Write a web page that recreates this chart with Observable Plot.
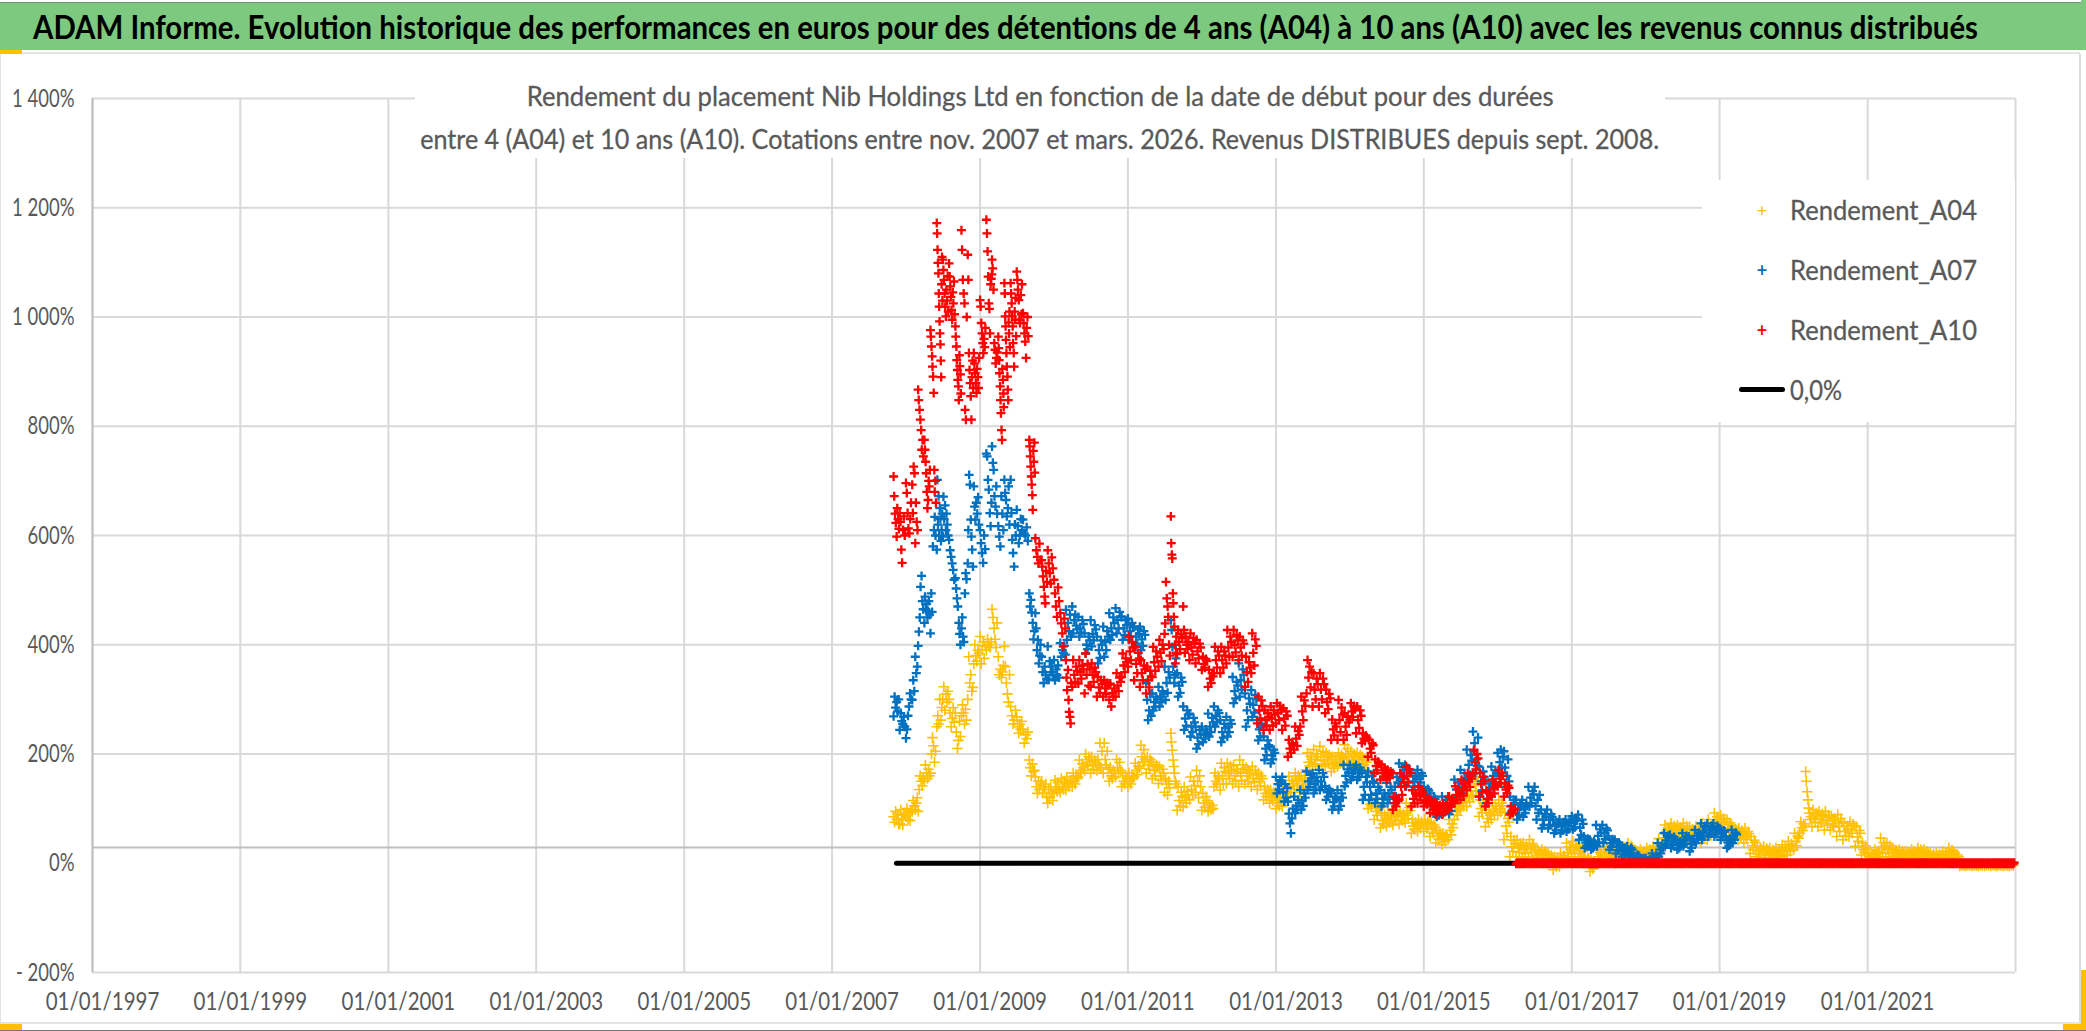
<!DOCTYPE html>
<html lang="fr">
<head>
<meta charset="utf-8">
<title>ADAM Informe</title>
<script src="https://cdn.jsdelivr.net/npm/d3@7"></script>
<script src="https://cdn.jsdelivr.net/npm/@observablehq/plot@0.6"></script>
<style>
html,body{margin:0;padding:0;background:#fff;width:2086px;height:1031px;overflow:hidden}
#page{position:relative;width:2086px;height:1031px;overflow:hidden;font-family:Lato,"Open Sans",sans-serif}
#bar{position:absolute;left:0;top:2px;width:2086px;height:48px;background:#7DC97F;border-top:1px solid #6f8f70;box-sizing:border-box}
#bar span{position:absolute;left:33px;top:3px;white-space:nowrap;font:700 33px Lato,sans-serif;color:#000;transform-origin:0 0}
#chart{position:absolute;left:0;top:0}
#subtitle{position:absolute;left:415px;top:75px;width:1250px;height:83px;background:#fff;color:#595959;text-align:center;font-size:27px;-webkit-text-stroke:.3px #595959}
#subtitle div{position:absolute;left:-400px;right:-400px;white-space:nowrap}
#subtitle span{display:inline-block;transform-origin:50% 50%}
#legend{position:absolute;left:1702px;top:180px;width:313px;height:242px;background:#fff;color:#595959;font-size:26px;-webkit-text-stroke:.3px #595959}
#legend .t{position:absolute;left:88px;white-space:nowrap;line-height:30px;transform-origin:0 50%}
#legend .m{position:absolute;left:52px;width:16px;text-align:center;font-size:18px;font-weight:700;line-height:30px;-webkit-text-stroke:0}
#legend .k{position:absolute;left:37px;width:46px;height:5px;border-radius:3px;background:#000;top:207px}
.edge{position:absolute}
</style>
</head>
<body>
<div id="page">
  <div id="chart"></div>
  <div id="bar"><span id="titleText" data-w="1945">ADAM Informe. Evolution historique des performances en euros pour des détentions de 4 ans (A04) à 10 ans (A10) avec les revenus connus distribués</span></div>
  <div class="edge" style="left:0;top:52px;width:2080px;height:2px;background:#e4e4e4"></div>
  <div class="edge" style="left:0;top:50px;width:22px;height:4px;background:#FFC000"></div>
  <div class="edge" style="left:0;top:54px;width:1px;height:970px;background:#e4e4e4"></div>
  <div class="edge" style="left:2079px;top:54px;width:2px;height:970px;background:#dcdcdc"></div>
  <div class="edge" style="left:0;top:1022px;width:2080px;height:2px;background:#e4e4e4"></div>
  <div class="edge" style="left:0;top:1030px;width:2086px;height:1px;background:#777"></div>
  <div class="edge" style="left:0;top:1024px;width:22px;height:6px;background:#FFC000"></div>
  <div class="edge" style="left:2063px;top:1024px;width:23px;height:6px;background:#FFC000"></div>
  <div class="edge" style="left:2081px;top:970px;width:5px;height:60px;background:#FFC000"></div>
  <div class="edge" style="left:2081px;top:0;width:5px;height:50px;background:#7DC97F"></div>
  <div id="subtitle">
    <div style="top:4px"><span data-w="1027">Rendement du placement Nib Holdings Ltd en fonction de la date de début pour des durées</span></div>
    <div style="top:47px"><span data-w="1239">entre 4 (A04) et 10 ans (A10). Cotations entre nov. 2007 et mars. 2026. Revenus DISTRIBUES depuis sept. 2008.</span></div>
  </div>
  <div id="legend">
    <div class="m" style="top:15px;color:#FFC000;font-weight:400">+</div><div class="t" data-w="187" style="top:15px">Rendement_A04</div>
    <div class="m" style="top:75px;color:#0070C0">+</div><div class="t" data-w="187" style="top:75px">Rendement_A07</div>
    <div class="m" style="top:135px;color:#FF0000">+</div><div class="t" data-w="187" style="top:135px">Rendement_A10</div>
    <div class="k"></div><div class="t" data-w="52" style="top:195px">0,0%</div>
  </div>
</div>
<script>
// Values, one inner list per month, in percent.
const A04_rows = [
 [85,75,95,80,90,72],[72,98,82,70,88,92],
 [85,100,80,92,78,96],[95,115,105,98,110,120],[95,135,160,150,142,155],[150,180,165,155,172,160],[165,200,230,215,185,205],[250,270,255,300,262,285],[300,323,280,310,295,315],[300,275,250,265,285,258],[275,240,210,225,260,232],[270,290,275,255,282,262],[300,378,330,345,315,322],[365,400,380,370,390,385],
 [415,365,390,405,375,398],[390,410,400,395,405],[465,450,430,410,395,440],[378,345,355,340,350,362],[397,360,330,310,295,345],[287,270,255,262,280],[268,250,238,255,245,260],[245,220,235,228,240],[189,175,160,182,168,170],[158,140,128,150,135,145],[150,128,140,135,145,122],[110,135,120,140,128,115],
 [128,152,140,132,148,136],[130,155,140,135,150,145],[134,158,145,140,152,148],[140,165,150,145,160,155],[158,189,170,165,182,175],[170,200,185,178,195,190],[165,195,180,172,188,184],[170,190,180,220,175,205],[165,220,190,180,205,172],[150,175,160,155,170,165],[158,190,175,165,185,170],[140,165,150,145,160,155],
 [140,165,150,145,160,155],[158,183,170,162,178,174],[177,216,195,185,208,190],[165,195,180,172,190,185],[155,185,170,160,180,175],[146,177,160,152,172,165],[130,155,145,125,150,138],[238,222,207,189,177,165,150,145],[97,140,115,105,130,122],[103,140,120,110,132,125],[116,158,135,125,150,142],[130,170,150,120,160,140],
 [97,128,110,102,122,115],[95,110,102,98,106,100],[140,165,150,145,160,155],[134,183,160,145,175,168],[146,183,165,155,178,170],[145,180,160,150,172,168],[140,189,165,152,180,172],[145,175,160,150,170,165],[140,177,155,148,170,162],[135,165,150,142,160,155],[116,140,128,122,135,130],[110,134,120,115,130,125],
 [100,122,110,105,118,113],[104,140,122,112,135,128],[122,159,140,130,152,146],[135,165,150,142,160,155],[130,160,145,138,155,150],[171,202,185,178,196,190],[177,208,190,182,200,195],[171,214,195,180,205,188],[177,202,190,183,198,194],[168,195,180,174,190,185],[177,202,190,183,198,194],[183,217,200,190,210,195],
 [180,205,190,185,200,195],[177,202,190,183,198,194],[165,195,180,172,190,185],[100,115,108,104,112,110],[80,110,95,88,105,100],[65,92,78,72,88,82],[68,92,80,74,88,84],[70,98,85,78,92,88],[72,95,85,78,90,88],[74,110,92,82,102,96],[55,80,68,62,75,72],[58,80,70,64,76,72],
 [58,80,70,64,76,72],[49,74,62,55,70,66],[37,61,50,44,56,52],[34,55,45,40,52,48],[43,80,60,52,72,65],[80,110,95,88,105,100],[98,122,110,104,118,114],[104,140,120,112,132,125],[122,165,145,132,158,150],[86,116,100,92,110,105],[67,98,82,75,92,88],[80,110,95,88,105,100],
 [88,116,100,94,110,105],[43,92,68,55,82,75],[12,49,30,22,42,36],[12,43,28,20,36,32],[12,37,25,18,32,28],[12,43,28,20,36,32],[6,25,15,10,22,18],[6,25,15,10,22,18],[0,18,8,4,14,10],[-12,12,0,-6,8,4],[-6,18,6,0,14,10],[6,37,20,12,30,25],
 [12,40,25,18,34,30],[8,30,18,12,26,22],[0,12,6,3,10,8],[-15,6,-5,-10,2,-2],[0,25,12,6,20,16],[6,37,20,12,30,25],[6,25,15,10,22,18],[0,18,10,5,14,12],[6,25,15,10,22,18],[12,37,25,18,32,28],[6,25,15,10,22,18],[6,25,15,10,22,18],
 [12,28,20,15,25,22],[6,31,18,12,26,22],[12,45,30,22,38,34],[46,70,58,52,65,62],[49,73,60,54,68,64],[49,70,60,54,66,63],[49,73,60,54,68,64],[43,67,55,48,62,58],[43,67,55,48,62,58],[37,73,55,45,66,60],[43,80,60,52,72,66],[61,92,75,68,85,80],
 [58,88,72,65,82,76],[49,80,65,56,74,70],[43,67,55,48,62,58],[43,64,52,47,60,56],[37,64,50,44,58,54],[18,49,32,25,42,38],[12,31,22,16,28,25],[10,31,20,15,27,24],[10,28,18,14,24,22],[10,28,18,14,24,22],[12,34,22,16,30,26],[15,40,28,22,35,32],
 [25,55,40,32,50,46],[55,76,65,60,72,68],[168,150,131,116,101,92,80,85],[67,98,82,75,92,88],[67,95,80,74,90,86],[61,95,78,70,88,84],[61,86,72,66,82,78],[49,89,68,58,82,75],[43,73,58,50,68,62],[49,76,62,55,72,68],[31,67,48,40,60,55],[15,37,25,20,32,28],
 [6,18,12,9,16,14],[9,25,15,12,22,18],[12,46,28,20,38,32],[12,37,25,18,32,28],[9,28,18,13,24,22],[9,25,15,12,22,18],[9,22,15,12,20,18],[9,25,15,12,22,18],[12,28,20,15,25,22],[9,25,15,12,22,18],[6,18,12,9,16,14],[6,18,12,9,16,14],
 [6,22,12,9,18,15],[9,28,18,13,24,22],[4,18,10,7,15,12],[-5,-3,-4],[-5,-3,-4],[-5,-3,-4],[-5,-3,-4],[-5,-3,-4],[-5,-3,-4],[-5,-3,-4],[-5,-3,-4],[-5,-3,-4]
];
const A07_rows = [
 [269,305,285,295,278,300],[244,275,260,255,268,250],
 [229,245,270,287,311,300],[299,335,315,378,348,360],[398,424,450,506,526,480,465],[440,488,465,475,450,462,480,455],[421,494,460,580,610,634,600],[574,702,620,672,600,650,630,590,610,640],[598,671,630,655,610,640,620,600],[592,573,561,549,537,519],[522,503,485,470,440,420,400],[430,450,415,405,494,531,520],[549,610,711,693,629,598,574,543],[690,653,629,660,640,670,620],
 [610,586,568,550,600,575],[750,745,702,684,641,617,660],[763,733,720,672,653,690,640],[617,598,580,672,640,610],[702,678,665,635,650,690,620],[702,641,592,568,543,620,600],[647,617,586,600,630,610],[629,604,600,615,590],[494,470,482,459,440,410,425],[458,430,390,409,366,380,400],[378,350,330,360,345,338],[397,336,370,350,360,345],
 [372,335,355,345,362,340],[403,378,390,385,398,382],[464,409,440,425,455,415],[470,421,445,455,435,428],[451,415,430,422,445,438],[421,384,400,392,415,408],[445,397,420,408,436,428],[415,366,390,376,408,400],[433,378,405,390,425,415],[458,409,430,418,450,440],[467,421,445,430,460,452],[451,409,430,418,445,436],
 [448,409,425,415,440,432],[433,396,415,402,428,420],[433,390,410,398,425,418],[330,299,262,280,310,270],[311,280,295,286,305,300],[323,287,305,295,315,310],[360,299,330,312,350,340],[445,427,396,360,330,345,375],[348,305,325,312,340,332],[287,244,265,252,280,272],[274,232,250,240,266,258],[250,210,230,218,244,236],
 [250,222,235,228,245,240],[274,232,250,240,266,258],[287,250,270,258,280,275],[262,222,240,230,255,248],[268,232,250,240,262,255],[341,293,315,302,332,325],[366,305,335,318,355,345],[311,250,280,262,302,292],[317,268,290,276,308,300],[262,225,245,232,255,250],[232,189,210,198,225,216],[213,183,198,190,208,202],
 [158,128,145,135,152,148],[158,130,113,145,120,138],[113,91,73,55,82,100],[122,92,105,98,116,110],[134,98,115,105,128,120],[168,134,150,140,162,155],[165,128,145,135,158,150],[171,134,150,140,165,158],[141,116,130,122,136,132],[128,98,112,104,122,118],[134,98,115,105,128,120],[180,141,160,148,172,166],
 [180,153,165,158,175,170],[180,153,165,158,175,170],[165,116,140,125,158,148],[168,116,140,125,160,150],[147,110,128,118,140,134],[134,104,118,110,128,122],[147,110,128,118,140,134],[165,110,140,122,158,148],[183,147,165,155,176,170],[180,141,160,148,172,166],[165,134,150,140,160,155],[171,141,155,148,165,160],
 [140,122,130,126,136,133],[128,104,115,108,122,118],[100,85,92,88,96,94],[122,90,105,96,116,110],[122,90,105,96,116,110],[153,116,135,122,148,140],[171,128,150,136,165,156],[208,153,180,162,198,188],[241,205,220,165,190,178,230],[177,122,150,134,168,158],[153,110,130,118,146,138],[177,141,160,148,170,165],
 [202,165,185,208,175,195],[205,175,140,160,190,150],[122,92,105,98,116,110],[116,80,98,88,108,104],[116,85,100,92,110,105],[140,104,120,110,132,126],[140,105,80,116,92,125],[98,64,80,70,90,85],[98,64,80,70,90,85],[80,55,68,60,75,72],[80,55,68,60,75,72],[80,58,70,62,76,74],
 [86,62,75,66,82,78],[89,43,65,52,80,72],[49,28,38,32,45,42],[43,25,33,28,40,36],[70,31,50,38,62,56],[70,37,55,44,64,60],[49,25,37,30,44,40],[43,18,30,24,38,34],[31,12,22,16,28,25],[31,12,22,16,28,25],[18,6,12,8,15,14],[12,0,5,2,9,7],
 [9,0,5,2,7,6],[18,3,10,6,14,12],[37,12,25,18,32,28],[55,31,42,36,50,46],[52,28,40,33,48,44],[43,25,34,28,40,37],[55,31,43,36,50,46],[49,22,35,28,44,40],[61,37,50,43,56,53],[73,43,58,50,68,62],[73,49,60,54,68,64],[73,49,60,54,68,64],
 [64,43,55,48,60,58],[49,28,38,32,45,42],[61,37,50,43,56,53]
];
const A10_rows = [
 [708,672,640,623,598,650,630,612],[641,625,574,550,610,635,600],
 [696,678,641,613,604,630,660],[693,641,726,714,586,660,625,610],[867,848,830,812,793,757,775,745],[775,757,735,714,680,650,665,700,690,720],[976,964,946,928,909,891,861,720,680,700,660],[1172,1153,1123,1099,1080,1043,1019,992,970,950,920,890,1060,1110,1030],[1105,1086,1068,1043,1019,1001,1050,1030,1075,1010],[1098,1074,1056,1037,1013,995,1045,1025,1065,1005],[983,964,946,921,903,885,873,848,930,910,895,860],[1159,1123,1068,1043,1025,830,812,1000],[1114,1068,934,903,879,855,812,890,920,870],[934,915,897,879,861,905,890,870,925],
 [1031,1019,989,970,952,934,960,945,980],[1178,1153,1120,1074,1025,1015,970,1060,1070,1078],[1105,1089,1050,952,940,915,925,935],[964,943,921,897,873,848,824,793,775,905,885,860,835],[1062,1043,1001,983,958,934,909,891,867,848,990,970,1010,945],[1062,1043,1025,1001,983,952,934,909,1010,995,1035,965],[1083,1068,1050,1031,995,989,1040,1005,1060],[1007,989,970,955,925,980,1000,965],[775,763,745,726,708,693,674,647,755,735,770,715],[595,573,561,549,585,555],[555,543,525,506,488,476,535,515],[573,549,531,512,560,540],
 [519,494,470,451,505,480],[458,439,421,397,448,430],[372,340,317,354,299,277,268,256,330],[323,372,345,332,360,352],[329,372,350,338,362,355],[311,384,345,365,325,355],[323,366,345,332,358,350],[305,341,322,312,335,328],[305,335,320,310,330,326],[299,329,287,312,305,320],[305,348,325,315,340,332],[341,384,362,350,375,368],
 [360,415,388,372,405,395],[335,396,365,348,385,375],[323,372,348,335,362,355],[311,360,335,322,352,342],[341,396,368,352,388,378],[360,409,385,370,400,392],[420,439,515,485,470,451,400,380],[635,586,565,558,494,476,451,433,400,366,385,415],[383,427,405,392,420,412],[470,427,385,415,400,392,405],[372,421,395,382,412,402],[366,409,388,375,402,395],
 [354,378,365,358,374,370],[323,354,338,330,348,342],[348,396,372,358,388,380],[348,396,372,358,388,380],[366,427,395,378,415,405],[378,427,400,386,418,408],[372,415,395,380,408,402],[323,378,350,332,368,358],[348,421,385,362,410,398],[256,305,280,265,298,288],[244,280,262,252,275,268],[244,287,265,252,280,272],
 [256,293,275,262,288,280],[244,284,265,252,278,270],[195,226,210,202,220,216],[208,250,228,215,242,235],[250,305,278,262,298,288],[311,372,340,360,322,350],[287,348,318,300,338,328],[287,348,318,300,338,328],[275,318,295,282,310,302],[226,263,245,234,256,250],[226,299,262,240,285,272],[226,275,250,235,268,258],
 [263,293,278,268,288,282],[238,287,262,248,280,270],[220,238,228,224,234,230],[195,226,210,202,220,216],[165,190,178,170,186,182],[153,180,165,158,175,170],[153,171,162,156,168,165],[98,122,110,104,118,114],[116,165,140,125,158,148],[141,177,160,148,172,165],[104,134,118,110,128,124],[110,141,125,116,135,130],
 [104,122,112,108,118,115],[92,116,104,98,112,108],[89,110,100,94,106,103],[89,110,100,94,106,103],[98,122,110,104,118,114],[110,141,125,116,135,130],[116,153,135,124,146,140],[134,165,150,140,160,155],[165,208,185,172,200,192],[122,165,145,130,158,150],[104,134,118,110,128,124],[122,153,138,128,148,142],
 [141,171,155,146,165,160],[122,147,135,128,142,138],[89,104,96,92,100,98]
];
const A10_flatMonths = 81;      // April 2016 to December 2022: A10 reads 0 %
const yTicks = [-200,0,200,400,600,800,1000,1200,1400];
const yGrid = [-200,200,400,600,800,1000,1200,1400];
const xGridYears = [1997,1999,2001,2003,2005,2007,2009,2011,2013,2015,2017,2019,2021,2023];
const xLabelYears = [1997,1999,2001,2003,2005,2007,2009,2011,2013,2015,2017,2019,2021];
const axisLineValue = 29;       // the darker horizontal axis sits just above 0 %
const startYear = 2007, startMonth = 10;

const toRows = (rows, y0, m0) => rows.flatMap((vals, i) => vals.map((value, j) => ({
  date: new Date(Date.UTC(y0, m0 + i, 1 + Math.floor(j * 30 / vals.length))), value
})));
const yearDate = y => new Date(Date.UTC(y, 0, 1));
const A04 = toRows(A04_rows, startYear, startMonth);
const A07 = toRows(A07_rows, startYear, startMonth);
const A10 = toRows(A10_rows, startYear, startMonth)
  .concat(toRows(Array.from({length: A10_flatMonths}, () => [-1,1,-1,1,-1,1]), 2016, 3));
const zeroLine = [{date: new Date(Date.UTC(startYear, startMonth, 15)), value: 0},
                  {date: new Date(Date.UTC(2016, 3, 1)), value: 0}];
const fmtDate = d3.utcFormat("%d/%m/%Y");
const fmtY = v => (v < 0 ? "- " + Math.abs(v) : v >= 1000 ? Math.floor(v/1000) + " " + String(v%1000).padStart(3,"0") : v) + "%";

const plot = Plot.plot({
  width: 2086, height: 1031,
  marginLeft: 92, marginRight: 71, marginTop: 98, marginBottom: 59,
  style: {fontFamily: 'Lato,"Open Sans",sans-serif', background: "#fff"},
  x: {type: "utc", domain: [yearDate(1997), yearDate(2023)]},
  y: {type: "linear", domain: [-200, 1400]},
  marks: [
    Plot.ruleY(yGrid, {stroke: "#d9d9d9", strokeWidth: 2}),
    Plot.ruleX(xGridYears.map(yearDate), {stroke: "#d9d9d9", strokeWidth: 2}),
    Plot.ruleX([yearDate(1997)], {stroke: "#bfbfbf", strokeWidth: 2}),
    Plot.ruleY([axisLineValue], {stroke: "#bfbfbf", strokeWidth: 2}),
    Plot.axisY({ticks: yTicks, tickFormat: fmtY, tickSize: 0, tickPadding: 18, fontSize: 25, fill: "#595959", label: null}),
    Plot.axisX({ticks: xLabelYears.map(yearDate), tickFormat: fmtDate, tickSize: 0, tickPadding: 20, fontSize: 25, fill: "#595959", label: null}),
    Plot.dot(A04, {x: "date", y: "value", symbol: "plus", r: 3.5, stroke: "#FFC000", strokeWidth: 1.6}),
    Plot.dot(A07, {x: "date", y: "value", symbol: "plus", r: 3, stroke: "#0070C0", strokeWidth: 2.3}),
    Plot.line(zeroLine, {x: "date", y: "value", stroke: "#000", strokeWidth: 5, strokeLinecap: "round"}),
    Plot.dot(A10, {x: "date", y: "value", symbol: "plus", r: 3, stroke: "#FF0000", strokeWidth: 2.3})
  ]
});
document.getElementById("chart").appendChild(plot);

// Condense the axis labels to the narrow look of the reference; the shift keeps them centred on the ticks.
const squeeze = (label, k, shift) => plot.querySelectorAll(`g[aria-label="${label}"] text`).forEach(t => {
  const base = t.getAttribute("transform") || "";
  t.setAttribute("transform", `${base} translate(${shift},0) scale(${k},1)`);
});
squeeze("x-axis tick label", 0.82, 10);
squeeze("y-axis tick label", 0.74, 0);
// Fit HTML texts to their measured widths.
document.querySelectorAll("[data-w]").forEach(el => {
  const w = el.getBoundingClientRect().width;
  el.style.transform = `scaleX(${+el.dataset.w / w})`;
});
</script>
</body>
</html>
